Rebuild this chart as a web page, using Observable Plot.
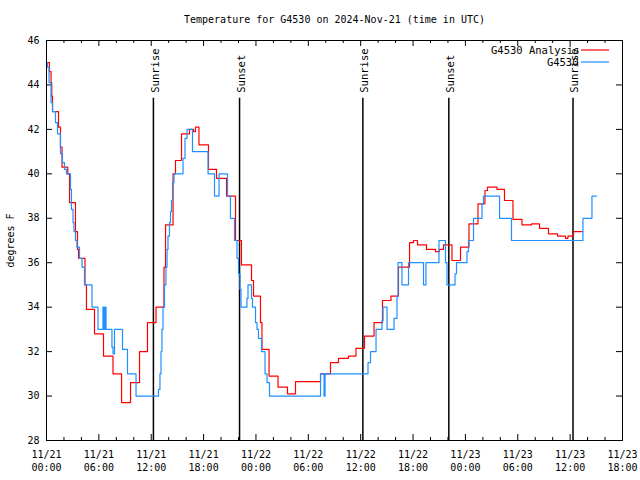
<!DOCTYPE html>
<html><head><meta charset="utf-8">
<script src="https://cdn.jsdelivr.net/npm/d3@7"></script>
<script src="https://cdn.jsdelivr.net/npm/@observablehq/plot@0.6"></script>
<style>
body{margin:0;background:#fff;}
#chart{position:relative;width:640px;height:480px;}
</style>
</head><body><div id="chart"></div>
<script>
const title = "Temperature for G4530 on 2024-Nov-21 (time in UTC)";
const yLabel = "degrees F";
const startUTC = Date.UTC(2024, 10, 21, 0, 0);
const endHour = 66;
const yTickValues = [28, 30, 32, 34, 36, 38, 40, 42, 44, 46];
const seriesNames = ["G4530 Analysis", "G4530"];
const seriesColors = ["#ff0000", "#1e90ff"];

// Hours since 2024-11-21 00:00 UTC at which each step starts, and the value held
const analysisHours = [0,0.34,0.52,0.6,0.69,1.375,1.6,1.78,2.44,2.64,3.32,3.55,3.67,4.41,4.58,5.5,6.53,7.62,8.6,9.63,10.66,11.57,12.55,13.46,13.64,14.5,14.78,15.47,16.39,16.84,17.07,17.47,18.56,19.48,20.63,21.66,22.34,23.49,23.72,24.52,24.69,25.5,26.53,27.61,28.53,31.4,32.54,33.46,34.6,35.46,36.44,37.53,38.5,39.47,40.33,41.6,42.05,42.51,43.54,44.57,45.03,45.49,46.46,47.44,48.41,49.44,50.24,50.53,51.62,52.48,53.45,54.48,55.57,56.49,57.52,58.55,59.47,59.75,60.39,61.42];
const analysisTemps = [45.0,44.6,44.1,43.5,42.8,42.1,41.2,40.3,40.0,38.7,37.4,36.6,36.2,35.0,33.9,32.8,31.8,31.0,29.7,30.6,32.0,33.3,34.0,35.8,37.7,40.0,40.6,41.8,42.0,41.9,42.1,41.3,40.2,39.8,39.0,37.0,35.9,35.2,34.5,33.3,32.1,30.9,30.4,30.1,30.65,31.0,31.5,31.7,31.8,32.15,32.7,33.3,34.3,34.5,35.8,36.9,37.0,36.8,36.6,36.5,36.6,36.8,36.1,36.7,37.75,38.65,39.25,39.4,39.3,38.8,37.95,37.7,37.75,37.55,37.3,37.2,37.1,37.2,37.4,37.4];

const obsHours = [0,0.11,0.29,0.52,0.69,1.03,1.26,1.6,1.83,2.06,2.29,2.75,2.86,3.04,3.15,3.32,3.49,3.78,4.07,4.35,5.21,5.9,6.47,6.59,6.7,6.82,7.5,7.62,7.79,8.71,9.28,10.26,12.83,13.0,13.12,13.23,13.35,13.52,13.69,13.81,13.92,14.09,14.21,14.32,14.44,14.61,15.64,15.87,16.1,16.73,18.51,19.25,19.77,20.74,21.08,21.54,21.83,22.0,22.17,22.29,22.97,23.09,23.49,23.6,23.95,24.12,24.29,24.64,25.04,25.27,25.55,31.4,31.8,31.92,36.84,37.13,37.76,38.44,38.56,39.02,39.82,40.16,40.28,40.73,41.48,43.2,43.48,44.97,45.72,45.89,46.81,46.98,48.18,48.35,48.93,49.9,50.07,51.91,53.28,61.47,62.5,63.02];
const obsTemps = [45.0,44.8,44.1,43.2,42.8,42.3,41.8,40.9,40.5,40.2,40.0,39.3,38.4,37.8,37.4,37.0,36.7,36.2,35.8,35.0,34.0,33.0,34.0,33.0,34.0,33.0,32.2,31.9,33.0,32.1,31.0,30.0,30.3,31.0,32.0,33.0,34.0,35.0,35.8,36.6,37.2,37.8,38.3,38.8,39.6,40.0,40.7,41.6,42.0,41.0,40.0,39.0,40.0,39.0,38.0,37.0,36.2,35.5,34.8,34.0,34.4,35.0,34.4,34.0,33.3,33.0,32.6,32.0,31.0,30.6,30.0,31.0,30.0,31.0,31.5,32.0,33.0,33.4,34.0,33.0,33.5,34.5,36.0,35.0,36.0,35.0,36.0,37.0,36.0,35.0,35.5,36.0,36.5,37.0,38.0,38.65,39.0,38.0,37.0,38.0,39.0,39.0];

const sunHours = [12.25, 22.12, 36.25, 46.1, 60.33];
const sunLabels = ["Sunrise", "Sunset", "Sunrise", "Sunset", "Sunrise"];
const sunLineTop = 43.4;
const sunLabelY = 43.65;

const toDate = h => new Date(startUTC + h * 3600e3);
const analysis = analysisHours.map((h, i) => ({t: toDate(h), v: analysisTemps[i]}));
const obs = obsHours.map((h, i) => ({t: toDate(h), v: obsTemps[i]}));
const sun = sunHours.map((h, i) => ({t: toDate(h), label: sunLabels[i]}));

const W = 640, H = 480, mL = 46, mR = 18, mT = 40, mB = 40;
const pw = W - mL - mR, ph = H - mT - mB;
const xMajor = d3.range(0, endHour + 1, 6).map(toDate);
const xMinor = d3.range(0, endHour + 1, 2).filter(h => h % 6 !== 0).map(toDate);
const fmt = d3.utcFormat("%m/%d\n%H:%M");

const chart = Plot.plot({
  width: W, height: H,
  marginLeft: mL, marginRight: mR, marginTop: mT, marginBottom: mB,
  style: {fontFamily: "'DejaVu Sans Mono', monospace", fontSize: "10px", color: "#000", background: "#fff"},
  x: {type: "utc", domain: [toDate(0), toDate(endHour)]},
  y: {domain: [28, 46]},
  marks: [
    Plot.axisY({ticks: yTickValues, tickSize: 0, tickPadding: 7, label: null}),
    Plot.axisX({ticks: xMajor, tickSize: 0, tickPadding: 8, label: null, tickFormat: fmt, lineHeight: 1.3}),
    Plot.tickY(yTickValues, {insetRight: pw - 6, stroke: "#000"}),
    Plot.tickY(yTickValues, {insetLeft: pw - 6, stroke: "#000"}),
    Plot.tickX(xMajor, {insetTop: ph - 6, stroke: "#000"}),
    Plot.tickX(xMajor, {insetBottom: ph - 6, stroke: "#000"}),
    Plot.tickX(xMinor, {insetTop: ph - 3, stroke: "#000"}),
    Plot.tickX(xMinor, {insetBottom: ph - 3, stroke: "#000"}),
    Plot.ruleX(sun, {x: "t", y1: 28, y2: sunLineTop, stroke: "#000", strokeWidth: 1.5}),
    Plot.text(sun, {x: "t", y: sunLabelY, text: "label", rotate: -90, textAnchor: "start", dx: 2, fontSize: 10.5}),
    Plot.line(analysis, {x: "t", y: "v", curve: "step-after", stroke: seriesColors[0], strokeWidth: 1.2}),
    Plot.line(obs, {x: "t", y: "v", curve: "step-after", stroke: seriesColors[1], strokeWidth: 1.2}),
    Plot.frame({stroke: "#000"}),
    Plot.text([title], {frameAnchor: "top", lineAnchor: "middle", dy: -21, fontSize: 10}),
    Plot.text([yLabel], {frameAnchor: "left", lineAnchor: "middle", textAnchor: "middle", rotate: -90, dx: -36}),
    Plot.text([seriesNames[0]], {frameAnchor: "top-right", lineAnchor: "middle", dx: -43, dy: 10, textAnchor: "end", fontSize: 10.5}),
    Plot.text([seriesNames[1]], {frameAnchor: "top-right", lineAnchor: "middle", dx: -44, dy: 22, textAnchor: "end", fontSize: 10.5})
  ]
});
document.getElementById("chart").appendChild(chart);

// legend line samples
const svg = d3.select(chart);
[0, 1].forEach(i => {
  svg.append("line")
    .attr("x1", W - mR - 41).attr("x2", W - mR - 13)
    .attr("y1", mT + 10 + 12 * i).attr("y2", mT + 10 + 12 * i)
    .attr("stroke", seriesColors[i]).attr("stroke-width", 1.2);
});
</script>
</body></html>
